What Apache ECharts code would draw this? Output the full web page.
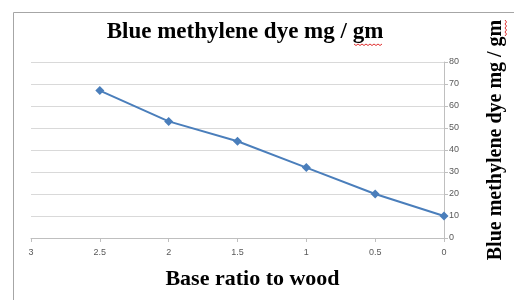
<!DOCTYPE html>
<html>
<head>
<meta charset="utf-8">
<script src="https://cdn.jsdelivr.net/npm/echarts@6/dist/echarts.min.js"></script>
<style>
  html, body { margin: 0; padding: 0; background: #fff; }
  #chart { width: 514px; height: 300px; }
</style>
</head>
<body>
<div id="chart"></div>
<script>
  // base ratio (x) and dye uptake (y)
  const ratios = [2.5, 2, 1.5, 1, 0.5, 0];
  const dyeValues = [67, 53, 44, 32, 20, 10];

  const chart = echarts.init(document.getElementById('chart'));
  const axisGray = '#bfbfbf';
  const labelGray = '#595959';
  const serif = '"Liberation Serif", "DejaVu Serif", serif';

  // little red spell-check squiggle, horizontal or vertical
  function squiggle(x, y, len, vertical) {
    const pts = [];
    for (let i = 0; i <= len; i += 2) {
      const off = (i / 2) % 2 === 0 ? 0 : 1.5;
      pts.push(vertical ? [x + off, y + i] : [x + i, y + off]);
    }
    return {
      type: 'polyline',
      shape: { points: pts },
      style: { stroke: '#e03030', lineWidth: 1, fill: null }
    };
  }

  const option = {
    backgroundColor: '#fff',
    animation: false,
    title: {
      text: 'Blue methylene dye mg / gm',
      left: 245,
      top: 21,
      padding: 0,
      textAlign: 'center',
      textStyle: {
        fontFamily: serif,
        fontWeight: 'bold',
        fontSize: 23,
        color: '#000'
      }
    },
    graphic: [{
      type: 'polyline',
      shape: { points: [[13.5, 300], [13.5, 12.5], [514, 12.5]] },
      style: { stroke: '#a6a6a6', lineWidth: 1, fill: null }
    },
      squiggle(354, 44, 28, false),
      squiggle(505, 20, 16, true)
    ],
    grid: {
      left: 31,
      right: 70,
      top: 62,
      bottom: 62,
      outerBoundsMode: 'none'
    },
    xAxis: {
      type: 'value',
      inverse: true,
      min: 0,
      max: 3,
      interval: 0.5,
      name: 'Base ratio to wood',
      nameLocation: 'middle',
      nameGap: 30,
      nameTextStyle: {
        fontFamily: serif,
        fontWeight: 'bold',
        fontSize: 22,
        color: '#000',
        padding: [0, 0, 0, 30]
      },
      axisLine: { show: true, onZero: false, lineStyle: { color: axisGray } },
      axisTick: { show: true, length: 4, lineStyle: { color: axisGray } },
      splitLine: { show: false },
      axisLabel: {
        color: labelGray,
        fontSize: 9,
        fontFamily: '"Liberation Sans", sans-serif',
        margin: 10
      }
    },
    yAxis: {
      type: 'value',
      position: 'right',
      min: 0,
      max: 80,
      interval: 10,
      name: 'Blue methylene dye mg / gm',
      nameLocation: 'middle',
      nameRotate: 90,
      nameGap: 42,
      nameTextStyle: {
        fontFamily: serif,
        fontWeight: 'bold',
        fontSize: 20,
        color: '#000',
        padding: [0, 0, 0, 20]
      },
      axisLine: { show: true, lineStyle: { color: axisGray } },
      axisTick: { show: true, length: 4, lineStyle: { color: axisGray } },
      splitLine: { show: true, lineStyle: { color: '#d9d9d9' } },
      axisLabel: {
        color: labelGray,
        fontSize: 9,
        fontFamily: '"Liberation Sans", sans-serif',
        margin: 5
      }
    },
    series: [{
      type: 'line',
      data: ratios.map((r, i) => [r, dyeValues[i]]),
      symbol: 'diamond',
      symbolSize: 9,
      itemStyle: { color: '#4a7ebb' },
      lineStyle: { color: '#4a7ebb', width: 2 }
    }]
  };
  chart.setOption(option);
</script>
</body>
</html>
